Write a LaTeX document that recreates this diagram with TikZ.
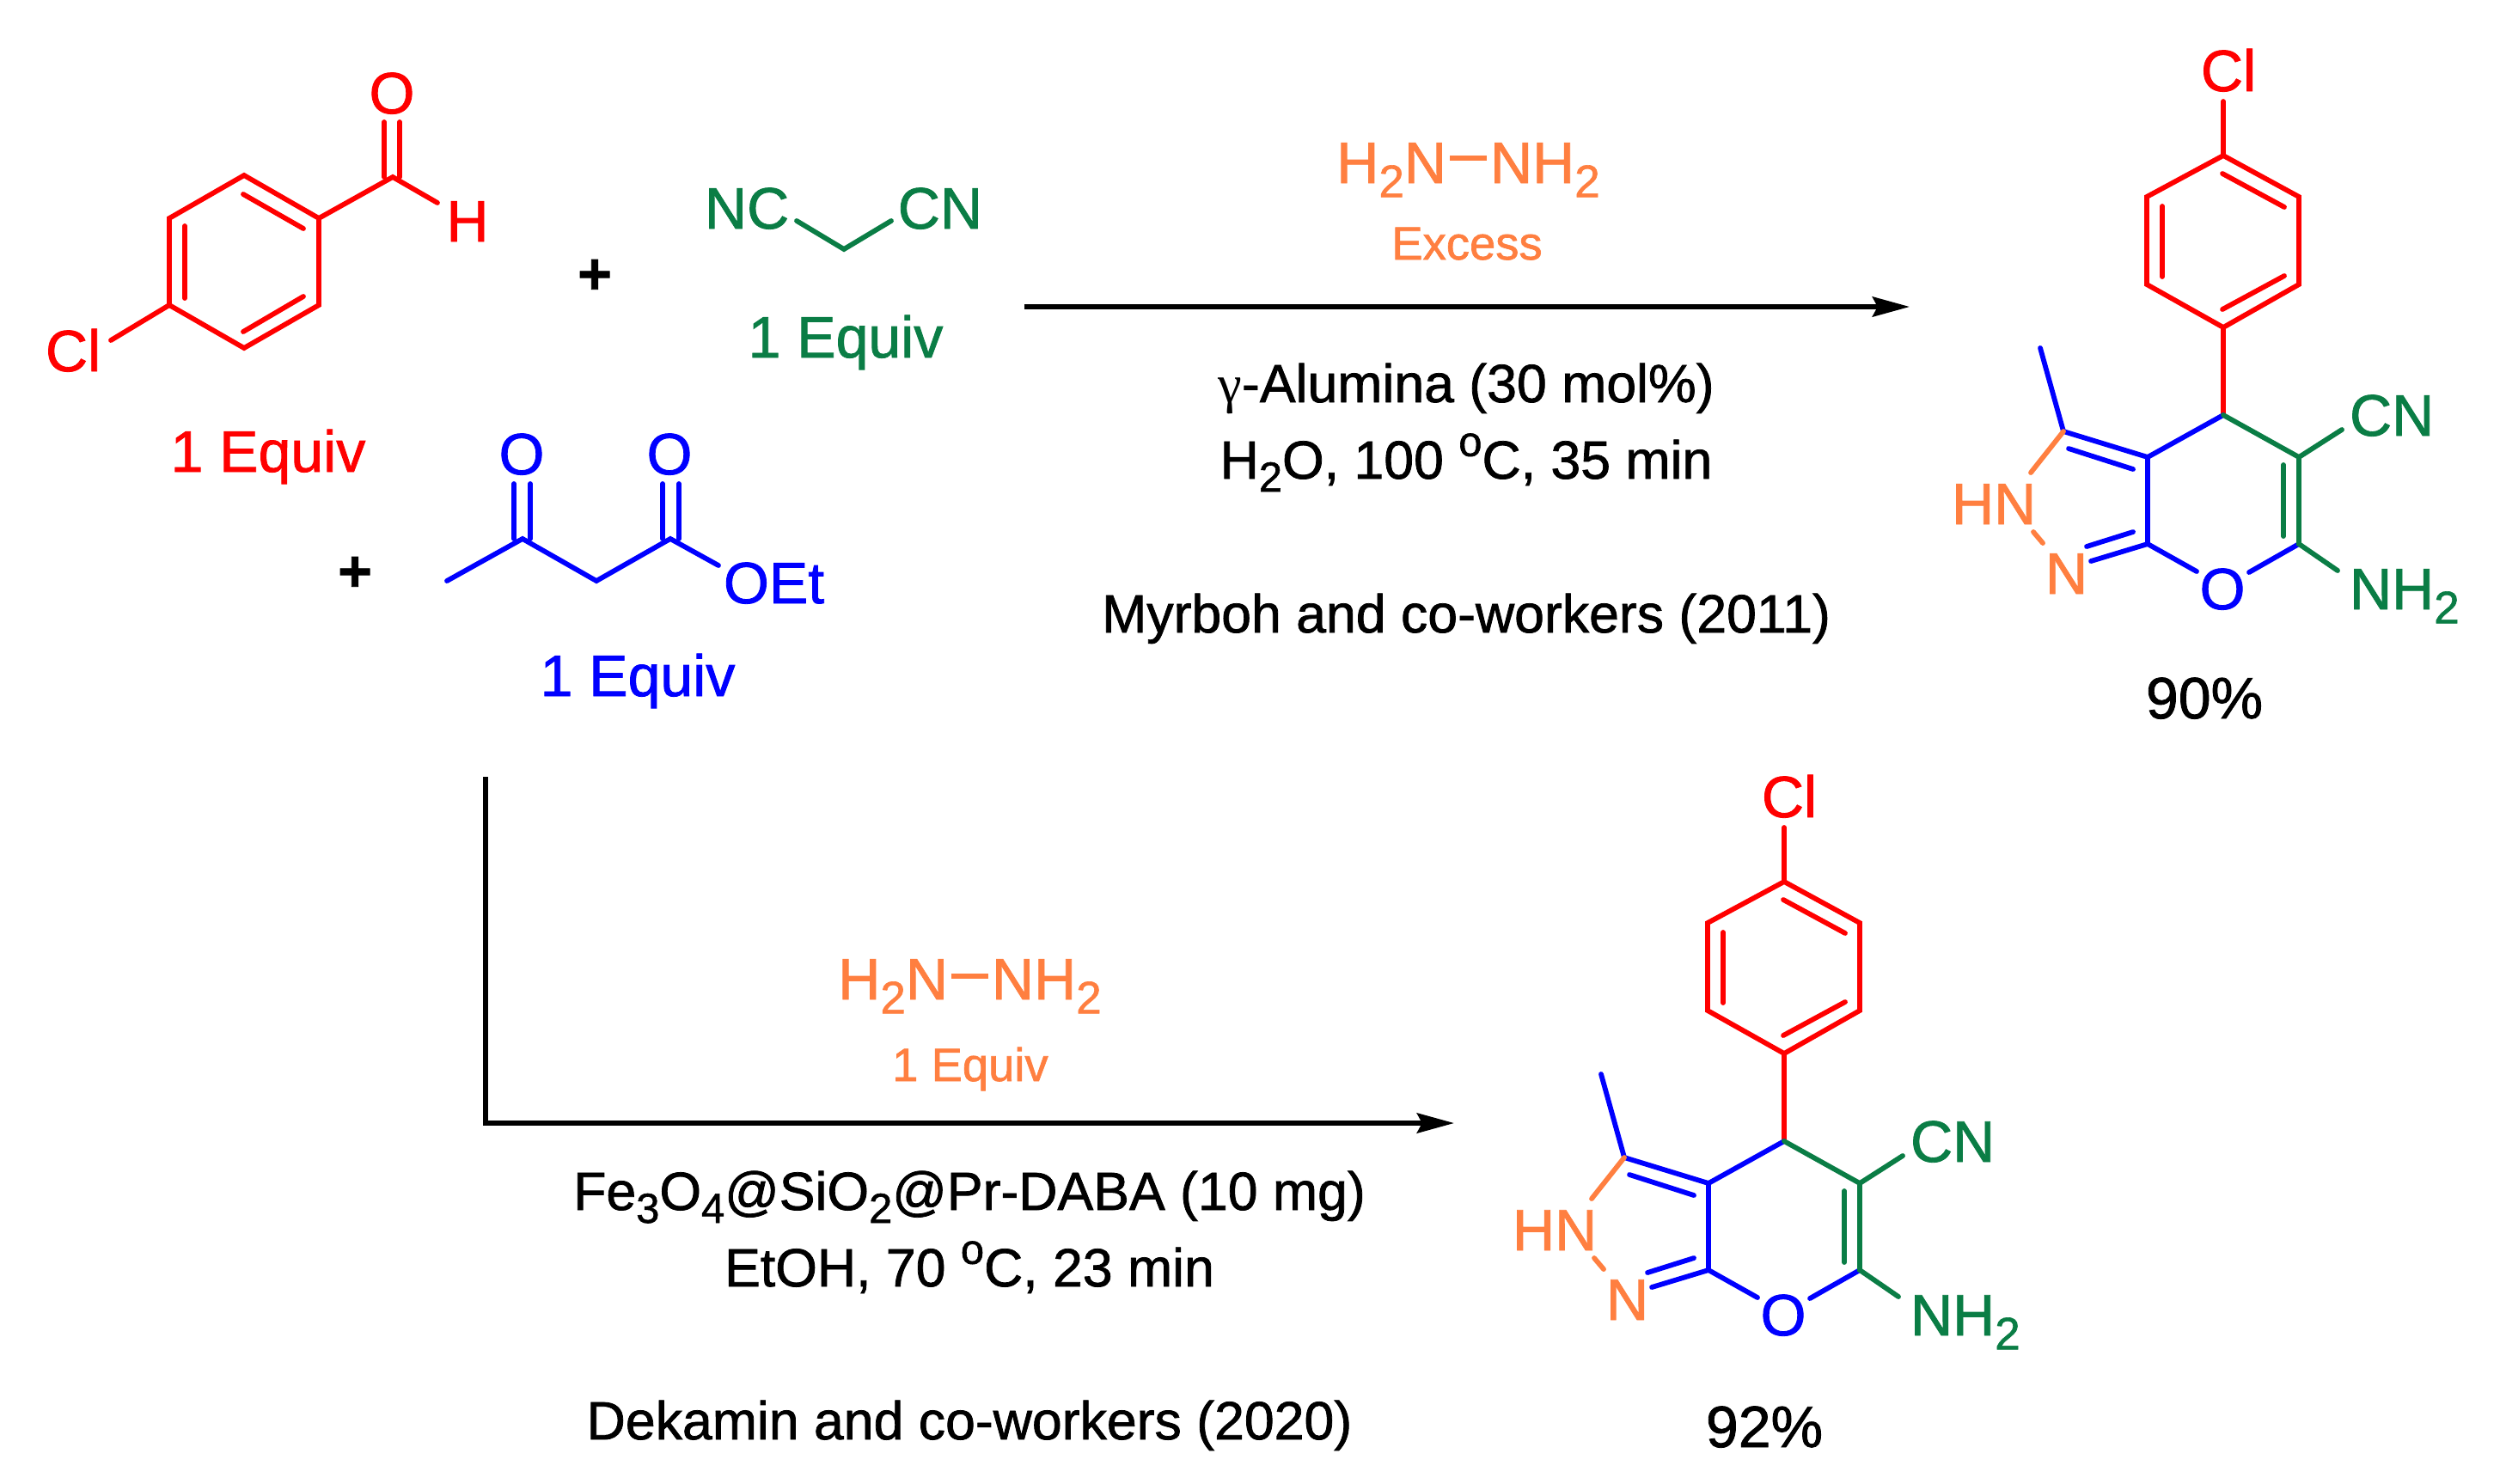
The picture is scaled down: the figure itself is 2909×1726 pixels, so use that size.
\documentclass[tikz,border=0pt]{standalone}
\usepackage{fontspec}
\setmainfont{Liberation Sans}[RawFeature={embolden=1.2}]
\newfontfamily\gkfont{Liberation Serif}
\usetikzlibrary{arrows.meta}
\definecolor{cred}{HTML}{FF0000}
\definecolor{cblue}{HTML}{0000FF}
\definecolor{cgreen}{HTML}{0A7D45}
\definecolor{corange}{HTML}{FF7F40}
\newcommand\lowidx[1]{\raisebox{-0.24em}{\scalebox{0.78}{#1}}}
\newcommand\upidx[1]{\raisebox{0.42em}{\scalebox{0.78}{#1}}}
\newcommand\bigfont{\fontsize{17}{20}\selectfont}
\newcommand\rxnfont{\fontsize{15.65}{18}\selectfont}
\newcommand\hydfont{\fontsize{17}{20}\selectfont}
\newcommand\smallfont{\fontsize{13.6}{16}\selectfont}
\tikzset{
  bond/.style={line width=1.45pt,line cap=round,line join=miter},
  txt/.style={inner sep=0pt,outer sep=0pt,anchor=base,font=\bigfont},
  txtl/.style={txt,anchor=base west},
  txtr/.style={txt,anchor=base east},
  cond/.style={txt,font=\rxnfont},
  note/.style={txt,font=\smallfont,text=corange},
  hydl/.style={txtl,font=\hydfont,text=corange},
  hydr/.style={txtr,font=\hydfont,text=corange},
  hydbond/.style={line width=1.3pt,corange},
  rxnline/.style={line width=1.35pt},
  rxnarrow/.style={rxnline,-{Stealth[length=10.8pt,width=5.8pt,inset=1.5pt]}},
}
% product structure, drawn at the position of the first one
\newcommand\productmol[2]{%
\begin{scope}[shift={(#1)}]
  \coordinate (#2a1) at (2594,181);
  \coordinate (#2a2) at (2682,229);
  \coordinate (#2a3) at (2682,331);
  \coordinate (#2a4) at (2594,381);
  \coordinate (#2a5) at (2505,331);
  \coordinate (#2a6) at (2505,229);
  \coordinate (#2c4) at (2594,483);
  \coordinate (#2c4a) at (2506,532);
  \coordinate (#2c7a) at (2506,633);
  \coordinate (#2c5) at (2682,532);
  \coordinate (#2c6) at (2682,633);
  \coordinate (#2c3) at (2408,502);
  \node[txt,text=cred] (#2cl) at (2600,106) {Cl};
  \node[txt,text=cblue] (#2o) at (2593,709) {O};
  \node[txtl,text=corange] (#2hn) at (2278,610) {HN};
  \node[txtl,text=corange] (#2n) at (2387,691) {N};
  \node[txtl,text=cgreen] (#2cn) at (2741,507) {CN};
  \node[txtl,text=cgreen] (#2nh) at (2741,709) {NH\lowidx{2}};
  \draw[bond,cred] (#2a1)--(#2a2)--(#2a3)--(#2a4)--(#2a5)--(#2a6)--cycle;
  \draw[bond,cred] (2594,118)--(#2a1);
  \draw[bond,cred] (2593,202)--(2665,241);
  \draw[bond,cred] (2523,240)--(2523,322);
  \draw[bond,cred] (2593,360)--(2665,321);
  \draw[bond,cred] (#2a4)--(#2c4);
  \draw[bond,cblue] (#2c4)--(#2c4a)--(#2c7a)--(2563,665);
  \draw[bond,cblue] (#2c4a)--(#2c3)--(2381,405);
  \draw[bond,cblue] (2414,522)--(2489,546);
  \draw[bond,cblue] (#2c7a)--(2440,653);
  \draw[bond,cblue] (2489,619)--(2435,636);
  \draw[bond,cblue] (#2c6)--(2624,666);
  \draw[bond,cgreen] (#2c4)--(#2c5)--(#2c6)--(2727,664);
  \draw[bond,cgreen] (#2c5)--(2732,500);
  \draw[bond,cgreen] (2664,541)--(2664,624);
  \draw[bond,corange] (#2c3)--(2370,550);
  \draw[bond,corange] (2373,619)--(2384,632);
\end{scope}}
\begin{document}
\begin{tikzpicture}[x=0.25pt,y=-0.25pt]
\useasboundingbox[fill=white] (0,0) rectangle (2909,1726);

% 4-chlorobenzaldehyde
\coordinate (r1) at (284,204);
\coordinate (r2) at (371,254);
\coordinate (r3) at (371,355);
\coordinate (r4) at (284,405);
\coordinate (r5) at (197,355);
\coordinate (r6) at (197,254);
\coordinate (cho) at (457,206);
\node[txt,text=cred] (ald-o) at (456,132) {O};
\node[txt,text=cred] (ald-h) at (544,281) {H};
\node[txtl,text=cred] (ald-cl) at (53,432) {Cl};
\node[txt,text=cred] (eq-red) at (312,549) {1 Equiv};
\draw[bond,cred] (r1)--(r2)--(r3)--(r4)--(r5)--(r6)--cycle;
\draw[bond,cred] (283,226)--(353,266);
\draw[bond,cred] (215,263)--(215,347);
\draw[bond,cred] (283,386)--(353,345);
\draw[bond,cred] (r2)--(cho)--(509,236);
\draw[bond,cred] (447,206)--(447,142);
\draw[bond,cred] (465,206)--(465,142);
\draw[bond,cred] (r5)--(129,396);

% malononitrile
\node[txtl,text=cgreen] (mal-nc) at (820,266) {NC};
\node[txtr,text=cgreen] (mal-cn) at (1143,266) {CN};
\node[txt,text=cgreen] (eq-green) at (984,416) {1 Equiv};
\coordinate (mal-c) at (982,290);
\draw[bond,cgreen] (927,257)--(mal-c)--(1037,257);

% ethyl acetoacetate
\coordinate (e1) at (520,676);
\coordinate (e2) at (608,627);
\coordinate (e3) at (694,676);
\coordinate (e4) at (780,627);
\node[txt,text=cblue] (est-o1) at (607,552) {O};
\node[txt,text=cblue] (est-o2) at (779,552) {O};
\node[txtl,text=cblue] (est-oet) at (842,702) {OEt};
\node[txt,text=cblue] (eq-blue) at (742,810) {1 Equiv};
\draw[bond,cblue] (e1)--(e2)--(e3)--(e4)--(836,658);
\draw[bond,cblue] (598,627)--(598,563);
\draw[bond,cblue] (617,627)--(617,563);
\draw[bond,cblue] (771,627)--(771,563);
\draw[bond,cblue] (790,627)--(790,563);

% plus signs
\node[txt,font=\bigfont\bfseries] (plus1) at (692,342) {+};
\node[txt,font=\bigfont\bfseries] (plus2) at (413,688) {+};

% upper reaction
\coordinate (ar1s) at (1192,357);
\coordinate (ar1e) at (2222,357);
\draw[rxnarrow] (ar1s)--(ar1e);
\node[hydr] (t1a) at (1683,213) {H\lowidx{2}N};
\node[hydl] (t1b) at (1734,213) {NH\lowidx{2}};
\draw[hydbond] (1687,184) -- (1730,184);
\node[note] (t1c) at (1707,302) {Excess};
\node[cond] (t1d) at (1706,468) {{\gkfont γ}-Alumina (30 mol\%)};
\node[cond] (t1e) at (1706,557) {H\lowidx{2}O, 100 \upidx{o}C, 35 min};
\node[cond] (t1f) at (1706,736) {Myrboh and co-workers (2011)};

% lower reaction
\coordinate (ar2s) at (565,904);
\coordinate (ar2c) at (565,1307);
\coordinate (ar2e) at (1692,1307);
\draw[rxnarrow] (ar2s)--(ar2c)--(ar2e);
\node[hydr] (t2a) at (1103,1163) {H\lowidx{2}N};
\node[hydl] (t2b) at (1154,1163) {NH\lowidx{2}};
\draw[hydbond] (1107,1136) -- (1150,1136);
\node[note] (t2c) at (1129,1258) {1 Equiv};
\node[cond] (t2d) at (1128,1408) {Fe\lowidx{3}O\lowidx{4}@SiO\lowidx{2}@Pr-DABA (10 mg)};
\node[cond] (t2e) at (1128,1497) {EtOH, 70 \upidx{o}C, 23 min};
\node[cond] (t2f) at (1128,1675) {Dekamin and co-workers (2020)};

% products
\productmol{-7,0}{p}
\node[txt] (y1) at (2565,836) {90\%};
\productmol{-518,845}{q}
\node[txt] (y2) at (2053,1684) {92\%};
\end{tikzpicture}
\end{document}
